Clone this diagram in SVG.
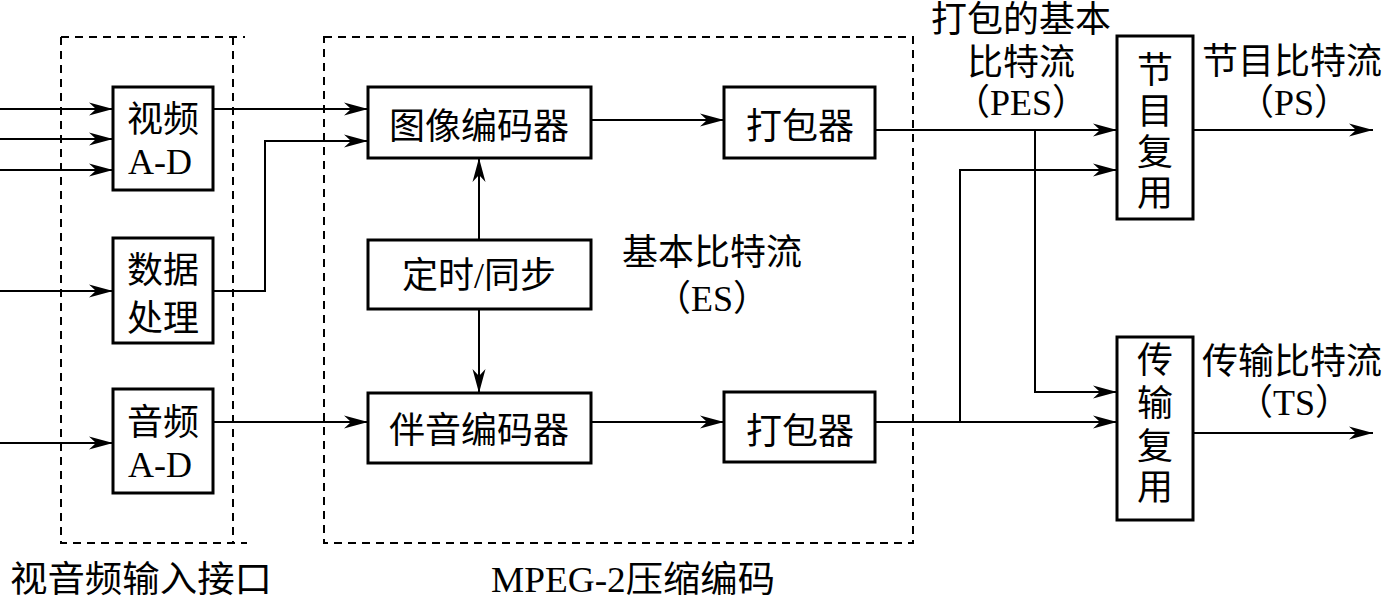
<svg xmlns="http://www.w3.org/2000/svg" width="1389" height="603" viewBox="0 0 1389 603">
<style>
.box{fill:#fff;stroke:#000;stroke-width:3}
.dash{fill:none;stroke:#000;stroke-width:2;stroke-dasharray:8,6}
.ln{fill:none;stroke:#000;stroke-width:2}
text{font-family:"Liberation Serif","Noto Sans CJK SC",serif;font-size:36px;fill:#000}
.c{text-anchor:middle}
</style>
<defs>
<marker id="ah" markerUnits="userSpaceOnUse" markerWidth="26" markerHeight="16" refX="24" refY="8" orient="auto">
<path d="M24,8 L0,1.5 L7,8 L0,14.5 Z" fill="#000"/>
</marker>
</defs>
<rect width="1389" height="603" fill="#fff"/>
<g id="groups">
<path class="dash" d="M61,37 H245 M61,37 V543 H247 M233,37 V543"/>
<path class="dash" d="M324,37 H913 V543 H324 Z"/>
<text x="10" y="592" textLength="262" lengthAdjust="spacingAndGlyphs">视音频输入接口</text>
<text x="491" y="592" textLength="284" lengthAdjust="spacingAndGlyphs">MPEG-2压缩编码</text>
</g>
<g id="connectors">
<path class="ln" marker-end="url(#ah)" d="M0,109 H113"/>
<path class="ln" marker-end="url(#ah)" d="M0,139 H113"/>
<path class="ln" marker-end="url(#ah)" d="M0,170 H113"/>
<path class="ln" marker-end="url(#ah)" d="M0,291 H113"/>
<path class="ln" marker-end="url(#ah)" d="M0,443 H113"/>
<path class="ln" marker-end="url(#ah)" d="M213,109 H368"/>
<path class="ln" marker-end="url(#ah)" d="M213,291 H265 V141 H368"/>
<path class="ln" marker-end="url(#ah)" d="M213,422 H368"/>
<path class="ln" marker-end="url(#ah)" d="M591,120 H724"/>
<path class="ln" marker-end="url(#ah)" d="M591,422 H724"/>
<path class="ln" marker-end="url(#ah)" d="M479,240 V158"/>
<path class="ln" marker-end="url(#ah)" d="M479,309 V393"/>
<path class="ln" marker-end="url(#ah)" d="M875,130 H1117"/>
<path class="ln" marker-end="url(#ah)" d="M1035,130 V392 H1117"/>
<path class="ln" marker-end="url(#ah)" d="M875,422 H1117"/>
<path class="ln" marker-end="url(#ah)" d="M960,422 V170 H1117"/>
<path class="ln" marker-end="url(#ah)" d="M1193,130 H1373"/>
<path class="ln" marker-end="url(#ah)" d="M1193,433 H1373"/>
</g>
<g id="labels">
<text class="c" x="712" y="265">基本比特流</text>
<text class="c" x="712" y="311">（ES）</text>
<text class="c" x="1021" y="32">打包的基本</text>
<text class="c" x="1021" y="75">比特流</text>
<text class="c" x="1021" y="115">（PES）</text>
<text class="c" x="1292" y="74">节目比特流</text>
<text class="c" x="1294" y="115">（PS）</text>
<text class="c" x="1292" y="374">传输比特流</text>
<text class="c" x="1294" y="415">（TS）</text>
</g>
<g id="video-ad"><rect class="box" x="113" y="87" width="100" height="103"/><text class="c" x="163" y="132">视频</text><text class="c" x="160" y="174">A-D</text></g>
<g id="data-proc"><rect class="box" x="113" y="238" width="100" height="105"/><text class="c" x="163" y="283">数据</text><text class="c" x="163" y="331">处理</text></g>
<g id="audio-ad"><rect class="box" x="113" y="389" width="100" height="104"/><text class="c" x="163" y="435">音频</text><text class="c" x="160" y="477">A-D</text></g>
<g id="video-enc"><rect class="box" x="368" y="87" width="223" height="71"/><text class="c" x="479" y="139">图像编码器</text></g>
<g id="timing"><rect class="box" x="368" y="240" width="223" height="69"/><text class="c" x="479" y="288">定时/同步</text></g>
<g id="audio-enc"><rect class="box" x="368" y="393" width="223" height="70"/><text class="c" x="479" y="443">伴音编码器</text></g>
<g id="packer1"><rect class="box" x="724" y="87" width="151" height="71"/><text class="c" x="800" y="139">打包器</text></g>
<g id="packer2"><rect class="box" x="724" y="392" width="151" height="70"/><text class="c" x="800" y="444">打包器</text></g>
<g id="prog-mux"><rect class="box" x="1117" y="36" width="76" height="183"/><text class="c" x="1155" y="83">节</text><text class="c" x="1155" y="124">目</text><text class="c" x="1155" y="165">复</text><text class="c" x="1155" y="206">用</text></g>
<g id="trans-mux"><rect class="box" x="1117" y="337" width="76" height="183"/><text class="c" x="1155" y="373">传</text><text class="c" x="1155" y="416">输</text><text class="c" x="1155" y="459">复</text><text class="c" x="1155" y="500">用</text></g>
</svg>
